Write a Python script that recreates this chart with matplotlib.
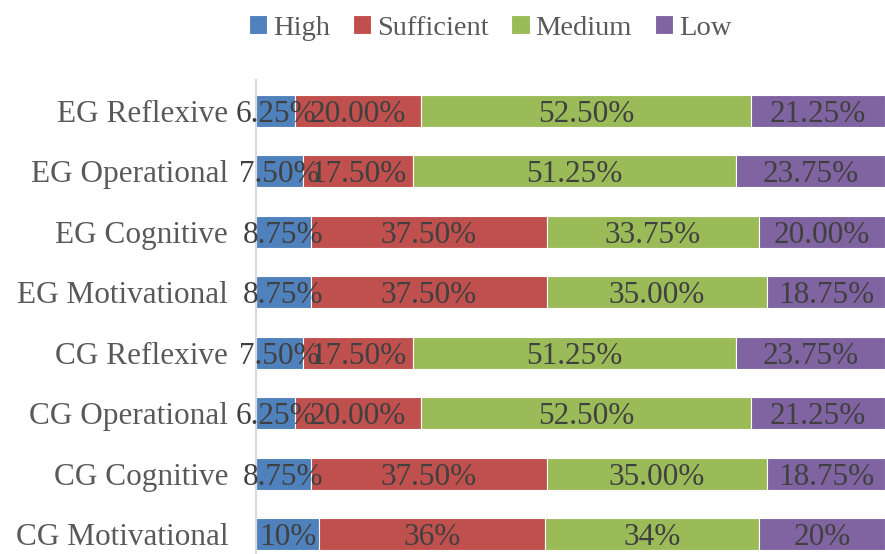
import numpy as np
import matplotlib.pyplot as plt

categories = ["CG Motivational", "CG Cognitive", "CG Operational", "CG Reflexive",
              "EG Motivational", "EG Cognitive", "EG Operational", "EG Reflexive"]
series = ["High", "Sufficient", "Medium", "Low"]
high = [10, 8.75, 6.25, 7.5, 8.75, 8.75, 7.5, 6.25]
sufficient = [36, 37.5, 20, 17.5, 37.5, 37.5, 17.5, 20]
medium = [34, 35, 52.5, 51.25, 35, 33.75, 51.25, 52.5]
low = [20, 18.75, 21.25, 23.75, 18.75, 20, 23.75, 21.25]
values = [high, sufficient, medium, low]
# first row is shown without decimals
label_fmt = ["{:.0f}%"] + ["{:.2f}%"] * 7
colors = ["#4F81BD", "#C0504D", "#9BBB59", "#8064A2"]

plt.rcParams['font.family'] = ['Liberation Serif', 'DejaVu Serif']

fig = plt.figure(figsize=(8.85, 5.54), dpi=100)
ax = fig.add_axes([256/885, 0, 1 - 256/885, 1 - 80/554])

y = np.arange(len(categories))
left = np.zeros(len(categories))
for name, vals, col in zip(series, values, colors):
    vals = np.array(vals)
    ax.barh(y, vals, left=left, height=0.53, color=col, edgecolor='white',
            linewidth=0.8, label=name)
    for i, v in enumerate(vals):
        ax.text(left[i] + v/2, y[i], label_fmt[i].format(v), ha='center',
                va='center_baseline', fontsize=22.5, color='#404040')
    left += vals

ax.set_xlim(0, 100)
ax.set_ylim(-0.33, 7.51)
ax.set_yticks(y)
ax.set_yticklabels(categories, fontsize=22.5, color='#595959', va='center_baseline')
ax.tick_params(axis='y', length=0, pad=20)
ax.set_xticks([])
for s in ['top', 'right', 'bottom']:
    ax.spines[s].set_visible(False)
ax.spines['left'].set_color('#D9D9D9')
ax.spines['left'].set_linewidth(1.5)

leg = fig.legend(loc='center', bbox_to_anchor=(490/885, 1 - 28/554), ncol=4,
                 frameon=False, fontsize=20.5, handlelength=0.65, handleheight=0.65,
                 handletextpad=0.2, columnspacing=0.8, borderpad=0)
for t in leg.get_texts():
    t.set_color('#595959')

fig.savefig('out.png', dpi=100)
